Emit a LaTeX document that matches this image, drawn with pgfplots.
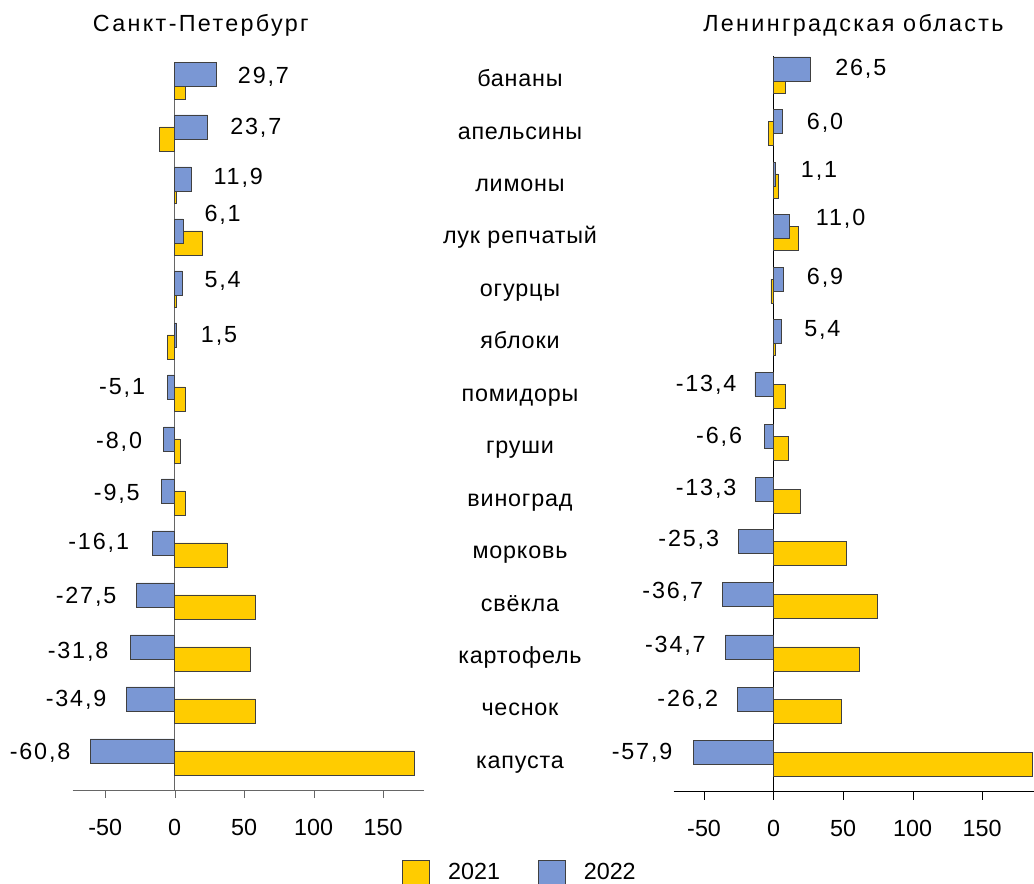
\documentclass[border=0pt]{standalone}
\usepackage{fontspec}
\setmainfont{Liberation Sans}
\newfontfamily\spc[LetterSpace=8]{Liberation Sans}
\newfontfamily\cat[LetterSpace=3.5]{Liberation Sans}
\newfontfamily\ttl[LetterSpace=10]{Liberation Sans}
\usepackage{pgfplots}
\pgfplotsset{compat=1.18}
\usepackage{pgfplotstable}
\definecolor{yel}{RGB}{255,204,0}
\definecolor{blu}{RGB}{122,151,212}
\newcommand{\fs}{\fontsize{17.5}{21}\selectfont}

\pgfplotstableread{
k a b
13 7.6 29.7
12 -10.8 23.7
11 1.0 11.9
10 20.1 6.1
9 1.5 5.4
8 -5.3 1.5
7 7.6 -5.1
6 3.8 -8.0
5 7.6 -9.5
4 38.0 -16.1
3 58.0 -27.5
2 54.5 -31.8
1 58.0 -34.9
0 172.5 -60.8
}\spb

\pgfplotstableread{
k a b
13 8.6 26.5
12 -3.6 6.0
11 3.5 1.1
10 17.8 11.0
9 -1.9 6.9
8 1.0 5.4
7 8.8 -13.4
6 10.8 -6.6
5 19.6 -13.3
4 52.5 -25.3
3 74.5 -36.7
2 61.5 -34.7
1 49.0 -26.2
0 186.0 -57.9
}\lo

\pgfplotsset{
  barchart/.style={
    scale only axis,
    anchor=south west,
    axis x line*=bottom,
    axis y line=none,
    ytick=\empty,
    xtick={-50,0,50,100,150},
    xtick align=outside,
    major tick length=6pt,
    tick label style={font=\fs},
    /pgf/number format/assume math mode=true,
    xticklabel style={yshift=-12pt},
  }
}

\begin{document}
\begin{tikzpicture}
\useasboundingbox (0,0) rectangle (775.5pt,662.25pt);

% ---------- Left: Saint Petersburg ----------
\begin{axis}[barchart,
  at={(54.375pt,69.75pt)}, width=263.625pt, height=545.475pt,
  xmin=-73.5, xmax=179.4, ymin=-0.635, ymax=13.35,
  x axis line style={black!60}, tick style={black!60},
  legend columns=2,
  legend style={draw=none, fill=none, at={(1.2703,-0.1135)}, anchor=center,
    font=\fs, nodes={inner sep=0pt},
    /tikz/every odd column/.append style={column sep=13.5pt},
    /tikz/every even column/.append style={column sep=28.5pt}},
]
\draw[black!60] (axis cs:0,-0.635) -- (axis cs:0,13.35);
\addplot[xbar, bar width=0.4615, bar shift=-0.1154, fill=yel, draw=black!75, line width=0.6pt, forget plot] table[x=a,y=k] {\spb};
\addplot[xbar, bar width=0.4615, bar shift=0.1154, fill=blu, draw=black!75, line width=0.6pt, forget plot] table[x=b,y=k] {\spb};
\addlegendimage{legend image code/.code={\draw[fill=yel,draw=black!75,line width=0.6pt] (0pt,-9pt) rectangle (20.25pt,9pt);}}
\addlegendentry{2021}
\addlegendimage{legend image code/.code={\draw[fill=blu,draw=black!75,line width=0.6pt] (0pt,-9pt) rectangle (20.25pt,9pt);}}
\addlegendentry{2022}
\end{axis}

% ---------- Right: Leningrad oblast ----------
\begin{axis}[barchart,
  at={(505.125pt,68.475pt)}, width=270.375pt, height=551.775pt,
  xmin=-72, xmax=187.3, ymin=-0.641, ymax=13.36,
  x axis line style={black}, tick style={black},
]
\draw[black] (axis cs:0,-0.641) -- (axis cs:0,13.36);
\addplot[xbar, bar width=0.457, bar shift=-0.114, fill=yel, draw=black!75, line width=0.6pt] table[x=a,y=k] {\lo};
\addplot[xbar, bar width=0.457, bar shift=0.114, fill=blu, draw=black!75, line width=0.6pt] table[x=b,y=k] {\lo};
\end{axis}

% ---------- Titles ----------
\node[anchor=base west, inner sep=0pt, font=\fs\ttl] at ({92.7*0.75pt},{851.3*0.75pt}) {Санкт-Петербург};
\node[anchor=base west, inner sep=0pt, font=\fs\ttl] at ({703*0.75pt},{851.3*0.75pt}) {Ленинградская область};

% ---------- Categories ----------
\foreach \t [count=\i from 0] in {бананы,апельсины,лимоны,лук репчатый,огурцы,яблоки,помидоры,груши,виноград,морковь,свёкла,картофель,чеснок,капуста}{
  \node[anchor=base, inner sep=0pt, font=\fs\cat] at ({520*0.75pt},{(883-86.7-52.43*\i)*0.75pt}) {\t};
}

% ---------- Data labels (2022) ----------
\foreach \x/\y/\t in {237.7/83.3/{29,7},230/135/{23,7},213.3/184.3/{11,9},204.3/221.7/{6,1},204.3/287.7/{5,4},200.7/342.3/{1,5},
  835/76/{26,5},806.7/130/{6,0},800.7/177.3/{1,1},815.7/226/{11,0},806.7/285/{6,9},804/336.7/{5,4}}{
  \node[anchor=base west, inner sep=0pt, font=\fs\spc] at ({\x*0.75pt},{(883-\y)*0.75pt}) {\t};
}
\foreach \x/\y/\t in {145.3/394.3/{-5,1},142.3/448.3/{-8,0},140/500/{-9,5},129.3/549/{-16,1},116.7/603.3/{-27,5},108.7/658.3/{-31,8},106.7/706.7/{-34,9},70.7/759/{-60,8},
  736.7/391.7/{-13,4},742.3/443.3/{-6,6},736.7/495/{-13,3},719.3/546/{-25,3},703.3/598.3/{-36,7},706/652.7/{-34,7},718.3/706.7/{-26,2},672.7/759/{-57,9}}{
  \node[anchor=base east, inner sep=0pt, font=\fs\spc] at ({\x*0.75pt},{(883-\y)*0.75pt}) {\t};
}
\end{tikzpicture}
\end{document}
